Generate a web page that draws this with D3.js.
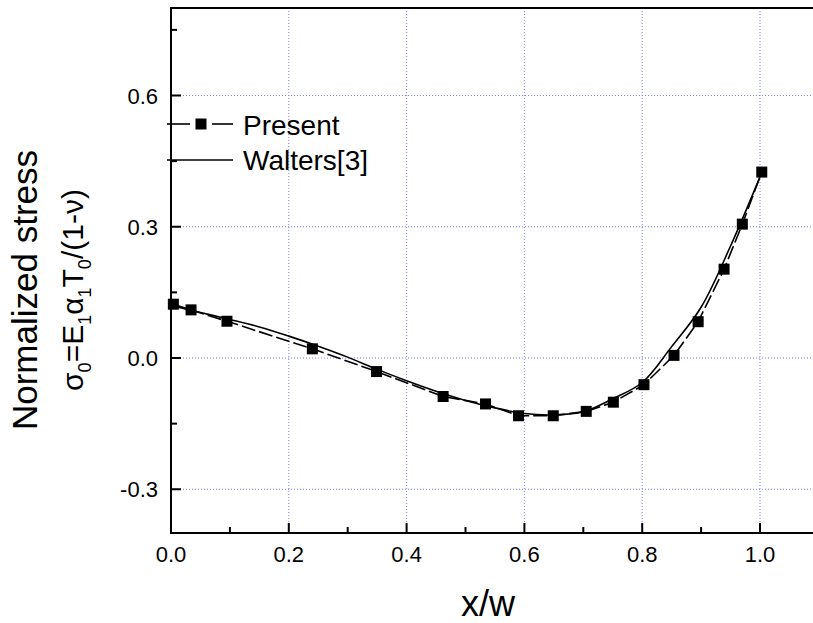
<!DOCTYPE html>
<html>
<head>
<meta charset="utf-8">
<script src="https://d3js.org/d3.v7.min.js"></script>
<style>
body { margin: 0; background: #fff; }
text { font-family: Arial, "Liberation Sans", sans-serif; fill: #000; }
</style>
</head>
<body>
<div id="chart"></div>
<script>

// Present (squares, dashed line)
var presentX = [0.004, 0.034, 0.095, 0.240, 0.349, 0.462, 0.534, 0.590, 0.649, 0.705, 0.751, 0.803, 0.854, 0.895, 0.939, 0.970, 1.003];
var presentY = [0.123, 0.110, 0.084, 0.021, -0.031, -0.088, -0.105, -0.132, -0.132, -0.122, -0.101, -0.061, 0.006, 0.083, 0.203, 0.306, 0.425];

// Walters[3] (solid line)
var waltersX = [0.0, 0.05, 0.10, 0.15, 0.20, 0.25, 0.30, 0.35, 0.40, 0.45, 0.50, 0.55, 0.60, 0.65, 0.70, 0.75, 0.80, 0.85, 0.90, 0.95, 1.0];
var waltersY = [0.120, 0.104, 0.088, 0.071, 0.050, 0.027, 0.002, -0.026, -0.052, -0.076, -0.097, -0.114, -0.127, -0.130, -0.123, -0.093, -0.056, 0.026, 0.116, 0.256, 0.414];

var xTicks = [0.0, 0.2, 0.4, 0.6, 0.8, 1.0];
var xMinor = [0.1, 0.3, 0.5, 0.7, 0.9, 1.1];
var yTicks = [-0.3, 0.0, 0.3, 0.6];
var yMinor = [-0.15, 0.15, 0.45, 0.75];

const W = 813, H = 623;
const pLeft = 171, pRight = 813, pTop = 8, pBottom = 533;

var x = d3.scaleLinear().domain([0, 1]).range([171, 760]);
var y = d3.scaleLinear().domain([-0.4, 0.8]).range([pBottom, pTop]);

var svg = d3.select("#chart").append("svg")
            .attr("width", W)
            .attr("height", H);

var grid = svg.append("g")
              .attr("stroke", "#7b7bff")
              .attr("stroke-width", 1)
              .attr("stroke-dasharray", "1,2");

grid.selectAll(".vg")
    .data(xTicks.slice(1))
    .enter().append("line")
    .attr("x1", d => x(d)).attr("x2", d => x(d))
    .attr("y1", pTop).attr("y2", pBottom);

grid.selectAll(".hg")
    .data(yTicks)
    .enter().append("line")
    .attr("x1", pLeft).attr("x2", pRight)
    .attr("y1", d => y(d)).attr("y2", d => y(d));

// ticks (inward)
var ticks = svg.append("g").attr("stroke", "#000").attr("stroke-width", 2);
ticks.selectAll(".xt").data(xTicks).enter().append("line")
     .attr("x1", d => x(d)).attr("x2", d => x(d))
     .attr("y1", pBottom).attr("y2", pBottom - 10);
ticks.selectAll(".xm").data(xMinor).enter().append("line")
     .attr("x1", d => x(d)).attr("x2", d => x(d))
     .attr("y1", pBottom).attr("y2", pBottom - 6);
ticks.selectAll(".yt").data(yTicks).enter().append("line")
     .attr("x1", pLeft).attr("x2", pLeft + 10)
     .attr("y1", d => y(d)).attr("y2", d => y(d));
ticks.selectAll(".ym").data(yMinor).enter().append("line")
     .attr("x1", pLeft).attr("x2", pLeft + 6)
     .attr("y1", d => y(d)).attr("y2", d => y(d));

// frame
svg.append("path")
   .attr("d", "M" + pRight + "," + pTop + "H" + pLeft + "V" + pBottom + "H" + pRight)
   .attr("fill", "none")
   .attr("stroke", "#000")
   .attr("stroke-width", 2);

// tick labels
svg.selectAll(".xl").data(xTicks).enter().append("text")
   .attr("x", d => x(d))
   .attr("y", 562)
   .attr("text-anchor", "middle")
   .attr("font-size", "22px")
   .text(d => d.toFixed(1));

svg.selectAll(".yl").data(yTicks).enter().append("text")
   .attr("x", 158)
   .attr("y", d => y(d) + 8)
   .attr("text-anchor", "end")
   .attr("font-size", "22px")
   .text(d => d.toFixed(1));

// series
var walters = waltersX.map((v, i) => [v, waltersY[i]]);
var present = presentX.map((v, i) => [v, presentY[i]]);

svg.append("path")
   .datum(walters)
   .attr("d", d3.line().x(d => x(d[0])).y(d => y(d[1])).curve(d3.curveCatmullRom))
   .attr("fill", "none")
   .attr("stroke", "#000")
   .attr("stroke-width", 1.6);

svg.append("path")
   .datum(present)
   .attr("d", d3.line().x(d => x(d[0])).y(d => y(d[1])))
   .attr("fill", "none")
   .attr("stroke", "#000")
   .attr("stroke-width", 1.6)
   .attr("stroke-dasharray", "14,4");

svg.selectAll(".sq").data(present).enter().append("rect")
   .attr("x", d => x(d[0]) - 5.5)
   .attr("y", d => y(d[1]) - 5.5)
   .attr("width", 11)
   .attr("height", 11)
   .attr("fill", "#000");

// legend
var lg = svg.append("g");
lg.append("line").attr("x1", 167).attr("x2", 190).attr("y1", 124).attr("y2", 124)
  .attr("stroke", "#000").attr("stroke-width", 1.6);
lg.append("rect").attr("x", 195.5).attr("y", 118.5).attr("width", 11).attr("height", 11).attr("fill", "#000");
lg.append("line").attr("x1", 212).attr("x2", 233).attr("y1", 124).attr("y2", 124)
  .attr("stroke", "#000").attr("stroke-width", 1.6);
lg.append("text").attr("x", 243).attr("y", 135).attr("font-size", "28px").text("Present");
lg.append("line").attr("x1", 167).attr("x2", 233).attr("y1", 160).attr("y2", 160)
  .attr("stroke", "#000").attr("stroke-width", 1.6);
lg.append("text").attr("x", 243).attr("y", 170).attr("font-size", "28px").text("Walters[3]");

// axis titles
svg.append("text")
   .attr("x", 488).attr("y", 616)
   .attr("text-anchor", "middle")
   .attr("font-size", "36px")
   .text("x/w");

svg.append("text")
   .attr("transform", "translate(37,290) rotate(-90)")
   .attr("text-anchor", "middle")
   .attr("font-size", "35px")
   .text("Normalized stress");

var t2 = svg.append("text")
   .attr("transform", "translate(83,290) rotate(-90)")
   .attr("text-anchor", "middle")
   .attr("font-size", "30px");
var parts = [["σ", 0], ["0", 1], ["=E", 0], ["1", 1], ["α", 0], ["1", 1], ["T", 0], ["0", 1], ["/(1-ν)", 0]];
parts.forEach(function (p) {
  t2.append("tspan")
    .attr("font-size", p[1] ? "18px" : "30px")
    .attr("baseline-shift", p[1] ? "-8px" : "0")
    .text(p[0]);
});

</script>
</html>
